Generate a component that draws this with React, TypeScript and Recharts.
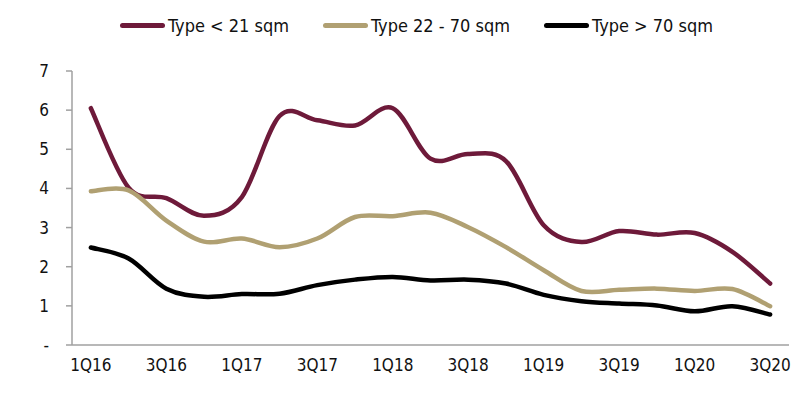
import React from "react";
import { LineChart, Line, XAxis, YAxis, Legend } from "recharts";

const QUARTERS = [
  "1Q16", "2Q16", "3Q16", "4Q16",
  "1Q17", "2Q17", "3Q17", "4Q17",
  "1Q18", "2Q18", "3Q18", "4Q18",
  "1Q19", "2Q19", "3Q19", "4Q19",
  "1Q20", "2Q20", "3Q20",
];

const SMALL = [6.05, 4.02, 3.75, 3.3, 3.78, 5.85, 5.74, 5.61, 6.05, 4.76, 4.88, 4.7, 3.06, 2.63, 2.91, 2.82, 2.86, 2.38, 1.57];
const MEDIUM = [3.93, 3.95, 3.18, 2.64, 2.72, 2.5, 2.72, 3.27, 3.29, 3.38, 3.01, 2.5, 1.91, 1.38, 1.41, 1.44, 1.38, 1.43, 0.99];
const LARGE = [2.49, 2.21, 1.44, 1.23, 1.3, 1.31, 1.53, 1.67, 1.74, 1.65, 1.67, 1.57, 1.28, 1.12, 1.06, 1.01, 0.86, 0.99, 0.78];

const SERIES = [
  { key: "small", name: "Type < 21 sqm", color: "#6e1a3a" },
  { key: "medium", name: "Type 22 - 70 sqm", color: "#b0a072" },
  { key: "large", name: "Type > 70 sqm", color: "#000000" },
];

const Y_TICKS = [0, 1, 2, 3, 4, 5, 6, 7];
const BOUNDARY_TICKS = QUARTERS.map((_, i) => i - 0.5).concat([QUARTERS.length - 0.5]);
const LABEL_TICKS = QUARTERS.map((_, i) => i).filter((i) => i % 2 === 0);

const data = QUARTERS.map((q, i) => ({
  idx: i,
  q,
  small: SMALL[i],
  medium: MEDIUM[i],
  large: LARGE[i],
}));

// Excel-like smoothed line (uniform Catmull-Rom as cubic Bezier)
function smoothCurve(context: any) {
  let pts: [number, number][] = [];
  return {
    areaStart() {},
    areaEnd() {},
    lineStart() {
      pts = [];
    },
    lineEnd() {
      const n = pts.length;
      if (n === 0) return;
      context.moveTo(pts[0][0], pts[0][1]);
      for (let i = 0; i < n - 1; i++) {
        const p0 = pts[Math.max(0, i - 1)];
        const p1 = pts[i];
        const p2 = pts[i + 1];
        const p3 = pts[Math.min(n - 1, i + 2)];
        context.bezierCurveTo(
          p1[0] + (p2[0] - p0[0]) / 6,
          p1[1] + (p2[1] - p0[1]) / 6,
          p2[0] - (p3[0] - p1[0]) / 6,
          p2[1] - (p3[1] - p1[1]) / 6,
          p2[0],
          p2[1]
        );
      }
    },
    point(x: number, y: number) {
      pts.push([+x, +y]);
    },
  };
}

const FONT = "'DejaVu Sans Condensed', 'DejaVu Sans', sans-serif";
const AXIS_COLOR = "#a0a0a0";

function LegendContent() {
  return (
    <div
      style={{
        height: 66,
        display: "flex",
        alignItems: "flex-start",
        paddingLeft: 120,
        fontFamily: FONT,
        fontSize: 18,
        color: "#111",
      }}
    >
      {SERIES.map((s, i) => (
        <div
          key={s.key}
          style={{
            display: "flex",
            alignItems: "center",
            height: 40,
            marginRight: i < SERIES.length - 1 ? 34 : 0,
          }}
        >
          <span
            style={{
              display: "inline-block",
              width: 45,
              height: 5,
              borderRadius: 3,
              background: s.color,
              marginRight: 3,
            }}
          />
          <span style={{ whiteSpace: "nowrap" }}>{s.name}</span>
        </div>
      ))}
    </div>
  );
}

export default function App() {
  return (
    <div style={{ position: "absolute", left: 0, top: 0, background: "#fff" }}>
      <LineChart
        width={800}
        height={395}
        data={data}
        margin={{ top: 5, right: 11, bottom: 0, left: 0 }}
      >
        <Legend
          verticalAlign="top"
          align="left"
          content={() => <LegendContent />}
          wrapperStyle={{ left: 0, width: 800 }}
        />
        <XAxis
          xAxisId="bounds"
          dataKey="idx"
          type="number"
          domain={[-0.5, QUARTERS.length - 0.5]}
          ticks={BOUNDARY_TICKS}
          tick={false}
          tickSize={5}
          height={8}
          axisLine={{ stroke: AXIS_COLOR, strokeWidth: 1.5 }}
          tickLine={{ stroke: AXIS_COLOR, strokeWidth: 1.5 }}
          allowDataOverflow
        />
        <XAxis
          xAxisId="labels"
          dataKey="idx"
          type="number"
          domain={[-0.5, QUARTERS.length - 0.5]}
          ticks={LABEL_TICKS}
          interval={0}
          tickFormatter={(v: number) => QUARTERS[v] ?? ""}
          axisLine={false}
          tickLine={false}
          tickSize={0}
          tickMargin={6}
          height={42}
          tick={{ fill: "#111", fontSize: 17, fontFamily: FONT }}
          allowDataOverflow
        />
        <YAxis
          type="number"
          domain={[0, 7]}
          ticks={Y_TICKS}
          interval={0}
          width={72}
          tickSize={6}
          tickMargin={17}
          tickFormatter={(v: number) => (v === 0 ? "-" : String(v))}
          axisLine={{ stroke: AXIS_COLOR, strokeWidth: 1.5 }}
          tickLine={{ stroke: AXIS_COLOR, strokeWidth: 1.5 }}
          tick={{ fill: "#111", fontSize: 17, fontFamily: FONT }}
        />
        {SERIES.map((s) => (
          <Line
            key={s.key}
            xAxisId="bounds"
            dataKey={s.key}
            name={s.name}
            type={smoothCurve as any}
            stroke={s.color}
            strokeWidth={4.5}
            strokeLinecap="round"
            dot={false}
            activeDot={false}
            isAnimationActive={false}
          />
        ))}
      </LineChart>
    </div>
  );
}
